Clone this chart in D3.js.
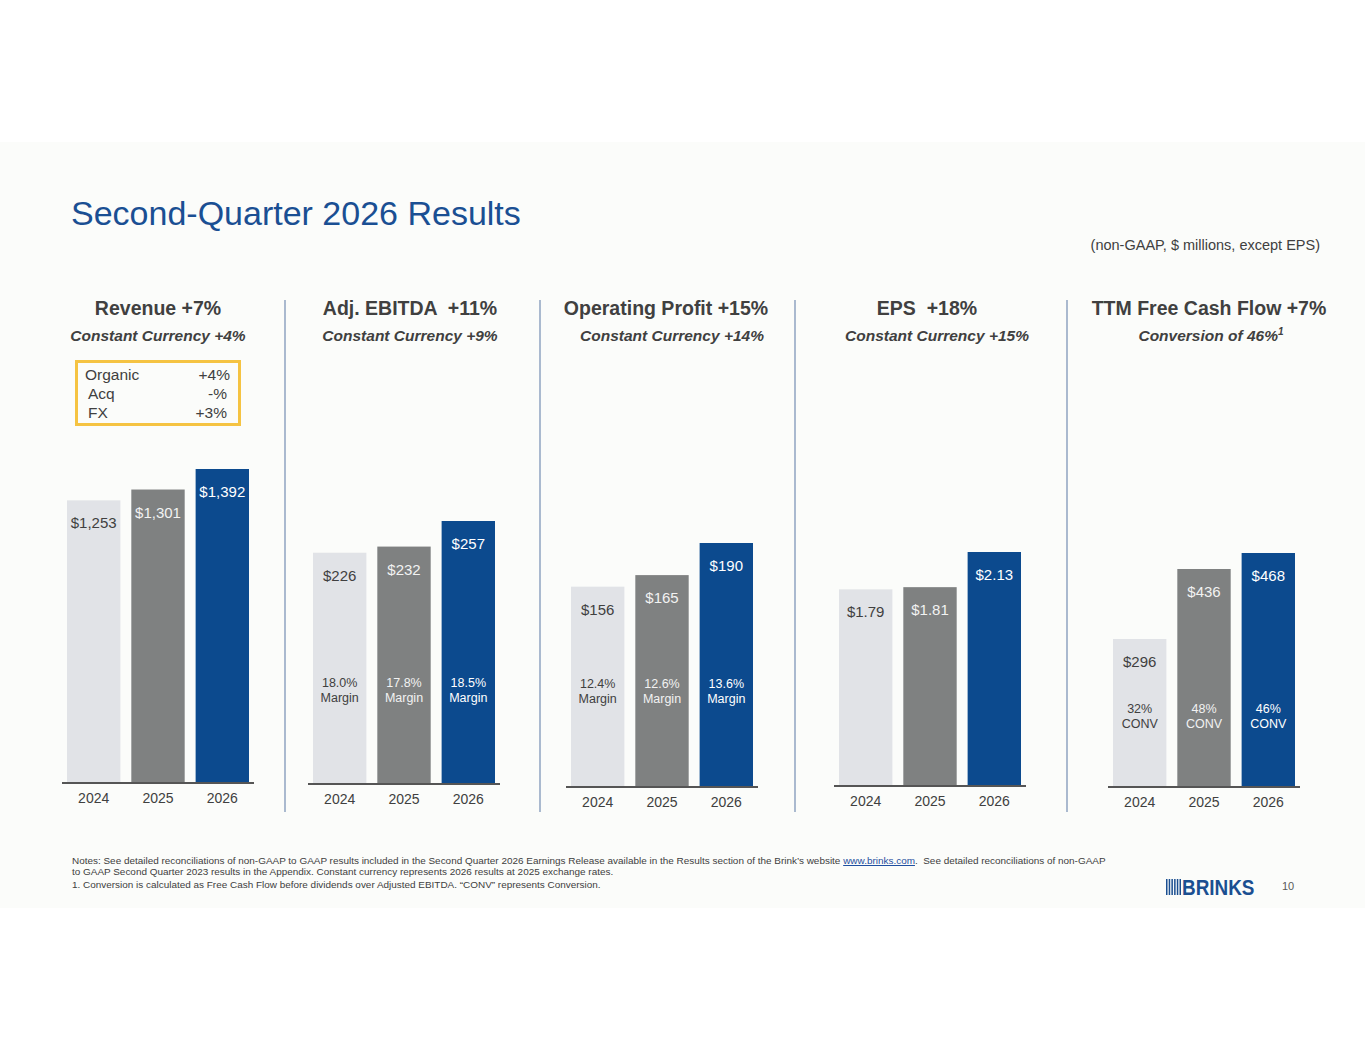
<!DOCTYPE html>
<html>
<head>
<meta charset="utf-8">
<script src="https://cdn.jsdelivr.net/npm/d3@7"></script>
<style>
  html, body { margin: 0; padding: 0; background: #ffffff; }
  svg { display: block; font-family: Arial, 'Liberation Sans', sans-serif; }
</style>
</head>
<body>
<div id="chart"></div>
<script>
const years = ['2024', '2025', '2026']

const panelTitles = ['Revenue +7%', 'Adj. EBITDA  +11%', 'Operating Profit +15%', 'EPS  +18%', 'TTM Free Cash Flow +7%']
const panelSubtitles = ['Constant Currency +4%', 'Constant Currency +9%', 'Constant Currency +14%', 'Constant Currency +15%', 'Conversion of 46%']

const revenue = [1253, 1301, 1392]
const adjEbitda = [226, 232, 257]
const operatingProfit = [156, 165, 190]
const eps = [1.79, 1.81, 2.13]
const freeCashFlow = [296, 436, 468]

const revenueLabels = ['$1,253', '$1,301', '$1,392']
const ebitdaLabels = ['$226', '$232', '$257']
const opLabels = ['$156', '$165', '$190']
const epsLabels = ['$1.79', '$1.81', '$2.13']
const fcfLabels = ['$296', '$436', '$468']

const ebitdaMargins = ['18.0%', '17.8%', '18.5%']
const opMargins = ['12.4%', '12.6%', '13.6%']
const fcfConversion = ['32%', '48%', '46%']

const bridgeNames = ['Organic', 'Acq', 'FX']
const bridgeValues = ['+4%', '-%', '+3%']

const COLORS = {
  bars: ['#E1E3E7', '#7F8181', '#0C4A8E'],
  barText: ['#404040', '#F2F2F2', '#FFFFFF'],
  text: '#404040',
  title: '#1A4F93',
  axis: '#555555',
  divider: '#7E96B8',
  box: '#F5C342',
  slide: '#FBFCFA'
}

const W = 1365
const H = 1055

// panel layout (pixels)
const panelX = [67, 313, 571, 839, 1113]
const panelWidth = 182
const tallestBar = [314, 263, 244, 234, 234]
const baselines = [783, 784, 787, 786, 787]
const headerCx = [158, 410, 666, 927, 1209]
const subCx = [158, 410, 672, 937, 1211]
const dividersX = [285, 540, 795, 1067]

const panels = [
  { values: revenue, labels: revenueLabels, notes: null, noteWord: null, noteOffset: 0 },
  { values: adjEbitda, labels: ebitdaLabels, notes: ebitdaMargins, noteWord: 'Margin', noteOffset: 102 },
  { values: operatingProfit, labels: opLabels, notes: opMargins, noteWord: 'Margin', noteOffset: 104 },
  { values: eps, labels: epsLabels, notes: null, noteWord: null, noteOffset: 0 },
  { values: freeCashFlow, labels: fcfLabels, notes: fcfConversion, noteWord: 'CONV', noteOffset: 79 }
]

const svg = d3.select('#chart').append('svg')
  .attr('width', W)
  .attr('height', H)

svg.append('rect')
  .attr('x', 0).attr('y', 142)
  .attr('width', W).attr('height', 766)
  .attr('fill', COLORS.slide)

// title
svg.append('text')
  .attr('x', 71).attr('y', 225)
  .text('Second-Quarter 2026 Results')
  .style('font-size', '34px')
  .style('fill', COLORS.title)

svg.append('text')
  .attr('x', 1320).attr('y', 250)
  .attr('text-anchor', 'end')
  .text('(non-GAAP, $ millions, except EPS)')
  .style('font-size', '14.5px')
  .style('fill', COLORS.text)

// dividers
svg.selectAll('.divider')
  .data(dividersX)
  .enter()
  .append('line')
  .attr('class', 'divider')
  .attr('x1', (d) => d).attr('x2', (d) => d)
  .attr('y1', 300).attr('y2', 812)
  .attr('stroke', COLORS.divider)
  .attr('stroke-width', 1.3)

panels.forEach((p, i) => {
  const base = baselines[i]
  const g = svg.append('g')

  g.append('text')
    .attr('x', headerCx[i]).attr('y', 315)
    .attr('text-anchor', 'middle')
    .text(panelTitles[i])
    .style('font-size', '19.5px')
    .style('font-weight', 'bold')
    .style('fill', COLORS.text)
    .style('white-space', 'pre')

  const sub = g.append('text')
    .attr('x', subCx[i]).attr('y', 341)
    .attr('text-anchor', 'middle')
    .style('font-size', '15.5px')
    .style('font-weight', 'bold')
    .style('font-style', 'italic')
    .style('fill', COLORS.text)
  sub.append('tspan').text(panelSubtitles[i])
  if (i === 4) {
    sub.append('tspan')
      .attr('dy', -6)
      .style('font-size', '10px')
      .text('1')
  }

  const x = d3.scaleBand()
    .domain(years)
    .range([panelX[i], panelX[i] + panelWidth])
    .paddingInner(0.17)
    .paddingOuter(0)

  const y = d3.scaleLinear()
    .domain([0, d3.max(p.values)])
    .range([base, base - tallestBar[i]])

  const rows = years.map((yr, j) => ({ year: yr, value: p.values[j], label: p.labels[j], j }))

  g.selectAll('.bar')
    .data(rows)
    .enter()
    .append('rect')
    .attr('class', 'bar')
    .attr('x', (d) => x(d.year))
    .attr('y', (d) => y(d.value))
    .attr('width', x.bandwidth())
    .attr('height', (d) => base - y(d.value))
    .attr('fill', (d) => COLORS.bars[d.j])

  g.selectAll('.val')
    .data(rows)
    .enter()
    .append('text')
    .attr('class', 'val')
    .attr('x', (d) => x(d.year) + x.bandwidth() / 2)
    .attr('y', (d) => y(d.value) + 28)
    .attr('text-anchor', 'middle')
    .text((d) => d.label)
    .style('font-size', '15px')
    .style('fill', (d) => COLORS.barText[d.j])

  if (p.notes) {
    const note = g.selectAll('.note')
      .data(rows)
      .enter()
      .append('text')
      .attr('class', 'note')
      .attr('text-anchor', 'middle')
      .style('font-size', '12.5px')
      .style('fill', (d) => COLORS.barText[d.j])
    note.append('tspan')
      .attr('x', (d) => x(d.year) + x.bandwidth() / 2)
      .attr('y', base - p.noteOffset + 4.5)
      .text((d) => p.notes[d.j])
    note.append('tspan')
      .attr('x', (d) => x(d.year) + x.bandwidth() / 2)
      .attr('y', base - p.noteOffset + 19.5)
      .text(p.noteWord)
  }

  g.append('line')
    .attr('x1', panelX[i] - 5).attr('x2', panelX[i] + panelWidth + 5)
    .attr('y1', base).attr('y2', base)
    .attr('stroke', COLORS.axis)
    .attr('stroke-width', 2)

  g.append('g')
    .attr('transform', `translate(0,${base})`)
    .call(d3.axisBottom(x).tickSize(0).tickPadding(10))
    .call((ax) => {
      ax.select('.domain').remove()
      ax.selectAll('.tick text')
        .style('font-family', 'Arial, "Liberation Sans", sans-serif')
        .style('font-size', '14px')
        .style('fill', COLORS.text)
    })
})

// revenue bridge box
const box = svg.append('g')
box.append('rect')
  .attr('x', 76.5).attr('y', 361.5)
  .attr('width', 163).attr('height', 63)
  .attr('fill', 'none')
  .attr('stroke', COLORS.box)
  .attr('stroke-width', 3)

box.selectAll('.bn')
  .data(bridgeNames)
  .enter()
  .append('text')
  .attr('x', (d, j) => (j === 0 ? 85 : 88))
  .attr('y', (d, j) => 380 + j * 19)
  .text((d) => d)
  .style('font-size', '15.5px')
  .style('fill', COLORS.text)

box.selectAll('.bv')
  .data(bridgeValues)
  .enter()
  .append('text')
  .attr('x', (d, j) => (j === 0 ? 230 : 227))
  .attr('y', (d, j) => 380 + j * 19)
  .attr('text-anchor', 'end')
  .text((d) => d)
  .style('font-size', '15.5px')
  .style('fill', COLORS.text)

// footnotes
const notes = svg.append('g')
  .style('font-size', '9.95px')
  .style('fill', COLORS.text)

const n1 = notes.append('text').attr('x', 72).attr('y', 864)
n1.append('tspan').text('Notes: See detailed reconciliations of non-GAAP to GAAP results included in the Second Quarter 2026 Earnings Release available in the Results section of the Brink\u2019s website ')
n1.append('tspan')
  .text('www.brinks.com')
  .style('fill', '#1F4FA0')
  .style('text-decoration', 'underline')
n1.append('tspan').text('.  See detailed reconciliations of non-GAAP')
  .style('white-space', 'pre')

notes.append('text').attr('x', 72).attr('y', 875)
  .text('to GAAP Second Quarter 2023 results in the Appendix. Constant currency represents 2026 results at 2025 exchange rates.')

notes.append('text').attr('x', 72).attr('y', 888)
  .text('1. Conversion is calculated as Free Cash Flow before dividends over Adjusted EBITDA. \u201CCONV\u201D represents Conversion.')

// logo
const logo = svg.append('g')
d3.range(6).forEach((k) => {
  logo.append('rect')
    .attr('x', 1166 + k * 2.7)
    .attr('y', 879)
    .attr('width', 1.5)
    .attr('height', 16)
    .attr('fill', '#1B4F91')
})
logo.append('text')
  .attr('transform', 'translate(1182,895) scale(0.86,1)')
  .text('BRINKS')
  .style('font-size', '22px')
  .style('font-weight', 'bold')
  .style('fill', '#1B4F91')

svg.append('text')
  .attr('x', 1288).attr('y', 890)
  .attr('text-anchor', 'middle')
  .text('10')
  .style('font-size', '11px')
  .style('fill', '#595959')
</script>
</body>
</html>
